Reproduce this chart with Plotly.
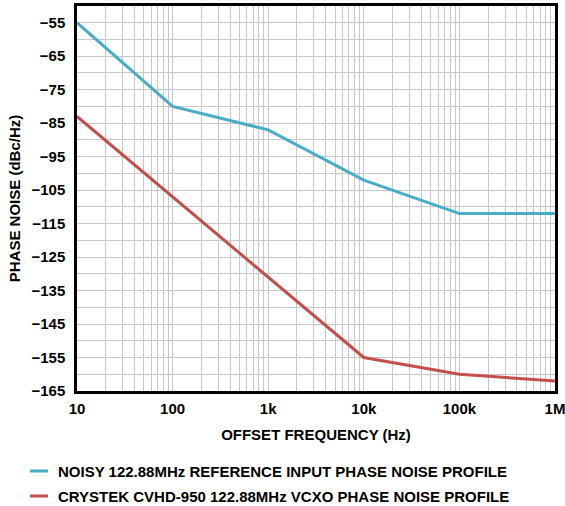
import plotly.graph_objects as go

freq = [10, 100, 1000, 10000, 100000, 1000000]
noisy_ref = [-55, -80, -87, -102, -112, -112]
crystek_vcxo = [-83, -107, -131, -155, -160, -162]

x_tick_vals = [10, 100, 1000, 10000, 100000, 1000000]
x_tick_text = ["10", "100", "1k", "10k", "100k", "1M"]
y_tick_vals = [-55, -65, -75, -85, -95, -105, -115, -125, -135, -145, -155, -165]
y_tick_text = ["\u221255", "\u221265", "\u221275", "\u221285", "\u221295", "\u2212105",
               "\u2212115", "\u2212125", "\u2212135", "\u2212145", "\u2212155", "\u2212165"]

legend_names = ["NOISY 122.88MHz REFERENCE INPUT PHASE NOISE PROFILE",
                "CRYSTEK CVHD-950 122.88MHz VCXO PHASE NOISE PROFILE"]
colors = ["#4aadc7", "#c24f4c"]

FONT = "Liberation Sans, Arial, Helvetica, sans-serif"

W, H = 565, 506
L, R, T, B = 77, 10, 6, 115
pw, ph = W - L - R, H - T - B

minor_x = [m * 10 ** d for d in range(1, 6) for m in range(2, 10)]

fig = go.Figure()
for name, ys, c in zip(legend_names, [noisy_ref, crystek_vcxo], colors):
    fig.add_trace(go.Scatter(x=freq, y=ys, mode="lines", name=name,
                             line=dict(color=c, width=3), showlegend=False))

# custom legend
leg_rows_px = [471, 496]
for name, c, ypx in zip(legend_names, colors, leg_rows_px):
    yp = (H - B - ypx) / ph
    fig.add_shape(type="line", xref="paper", yref="paper",
                  x0=(30 - L) / pw, x1=(48 - L) / pw, y0=yp, y1=yp,
                  line=dict(color=c, width=3))
    fig.add_annotation(xref="paper", yref="paper", x=(56 - L) / pw, y=yp,
                       text="<b>" + name + "</b>", showarrow=False,
                       xanchor="left", yanchor="middle",
                       font=dict(family=FONT, size=15, color="#000"))

fig.update_layout(
    width=W, height=H,
    margin=dict(l=L, r=R, t=T, b=B, pad=0, autoexpand=False),
    paper_bgcolor="white", plot_bgcolor="white",
    font=dict(family=FONT, size=15, color="#000"),
    xaxis=dict(
        type="log", range=[1, 6], automargin=False,
        tickvals=x_tick_vals, ticktext=["<b>%s</b>" % t for t in x_tick_text],
        ticklabeloverflow="allow",
        showgrid=True, gridcolor="#c8c8c8", gridwidth=1,
        minor=dict(tickvals=minor_x, showgrid=True, gridcolor="#c8c8c8", gridwidth=1),
        showline=True, linecolor="#000", linewidth=2.5, mirror=True,
        ticks="", ticklabelstandoff=2,
        title=dict(text="<b>OFFSET FREQUENCY (Hz)</b>", font=dict(size=15), standoff=14),
        zeroline=False,
    ),
    yaxis=dict(
        range=[-165, -50], automargin=False,
        tickvals=y_tick_vals, ticktext=["<b>%s</b>" % t for t in y_tick_text],
        showgrid=True, gridcolor="#c8c8c8", gridwidth=1,
        minor=dict(tick0=-50, dtick=5, showgrid=True, gridcolor="#c8c8c8", gridwidth=1),
        showline=True, linecolor="#000", linewidth=2.5, mirror=True,
        ticks="", ticklabelstandoff=6,
        title=dict(text="<b>PHASE NOISE (dBc/Hz)</b>", font=dict(size=15), standoff=8),
        zeroline=False,
    ),
)

fig.write_html("out.html")
